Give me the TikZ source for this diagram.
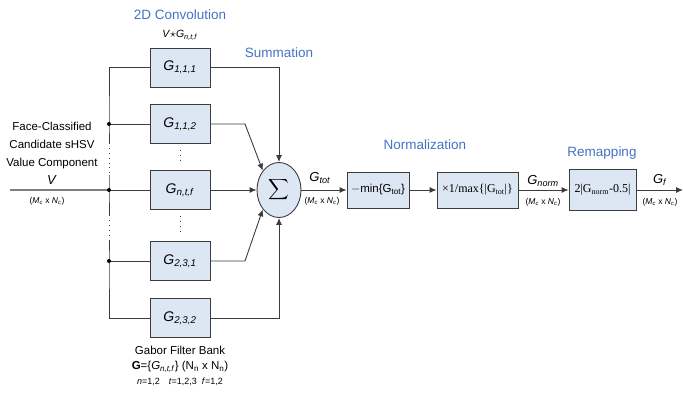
\documentclass[tikz,border=0pt]{standalone}
\usepackage{amsmath}
\usepackage{fontspec}
\setmainfont{Liberation Sans}
\newfontfamily\timesfont{Liberation Serif}
\usetikzlibrary{arrows.meta,shapes.geometric}
\definecolor{boxfill}{RGB}{221,231,244}
\definecolor{edge}{RGB}{60,60,60}
\definecolor{titleblue}{RGB}{68,114,196}
\newcommand{\dimMN}{(\textit{M}\textsubscript{\textit{c}} x \textit{N}\textsubscript{\textit{c}})}
\newcommand{\gsub}[1]{\textit{G}\textsubscript{\textit{#1}}}
\begin{document}
\begin{tikzpicture}[x=1pt,y=-1pt,
  >={Latex[length=7pt,width=6pt]},
  wire/.style={edge,line width=0.9pt},
  dotline/.style={edge,line width=0.9pt,dash pattern=on 0.9pt off 4pt},
  gbox/.style={draw=edge,line width=0.9pt,fill=boxfill,minimum width=60pt,minimum height=39pt,inner sep=0pt,font=\fontsize{14}{14}\selectfont},
  nbox/.style={draw=edge,line width=0.9pt,fill=boxfill,minimum height=36pt,inner sep=0pt},
  title/.style={text=titleblue,font=\fontsize{13.5}{14}\selectfont},
  dimtext/.style={font=\fontsize{8.5}{9}\selectfont},
  sigtext/.style={font=\fontsize{13}{13}\selectfont}]
  \useasboundingbox (0,0) rectangle (683,393);

  \node[title] (tconv) at (180,15) {2D Convolution};
  \node[font=\fontsize{10.5}{10}\selectfont] (conv) at (180,35) {\textit{V}{\fontsize{13}{13}\selectfont$\star$}\gsub{n,t,f}};
  \node[title] (tsum) at (279,53) {Summation};
  \node[title] (tnorm) at (425,145) {Normalization};
  \node[title] (tremap) at (602,153) {Remapping};

  \node[gbox] (g111) at (180,67.5) {\gsub{1,1,1}};
  \node[gbox] (g112) at (180,124) {\gsub{1,1,2}};
  \node[gbox] (gntf) at (180,190) {\gsub{n,t,f}};
  \node[gbox] (g231) at (180,261) {\gsub{2,3,1}};
  \node[gbox] (g232) at (180,318) {\gsub{2,3,2}};
  \draw[dotline,shorten >=6pt,shorten <=6pt] (g112) -- (gntf);
  \draw[dotline,shorten >=6pt,shorten <=6pt] (gntf) -- (g231);

  \node[align=center,font=\fontsize{11.5}{18}\selectfont] (vlabel) at (52,153)
    {Face-Classified\\Candidate sHSV\\Value Component\\{\fontsize{13}{18}\selectfont\textit{V}}};
  \node[dimtext] (vdim) at (47,201) {\dimMN};

  \coordinate (vin) at (10,190);
  \coordinate (bt) at (109,67.5);
  \coordinate (d1) at (109,124);
  \coordinate (e1) at (109,143);
  \coordinate (e2) at (109,175);
  \coordinate (d2) at (109,190);
  \coordinate (e3) at (109,215);
  \coordinate (e4) at (109,240);
  \coordinate (d3) at (109,261);
  \coordinate (bb) at (109,318);
  \draw[gray,line width=1.5pt] (vin) -- (d2);
  \draw[wire] (g111.west) -- (bt) -- (d1) -- (e1);
  \draw[dotline] (e1) -- (e2);
  \draw[wire] (e2) -- (d2) -- (e3);
  \draw[dotline] (e3) -- (e4);
  \draw[wire] (e4) -- (d3) -- (bb) -- (g232.west);
  \draw[wire] (d1) -- (g112.west);
  \draw[wire] (d2) -- (gntf.west);
  \draw[wire] (d3) -- (g231.west);
  \fill[black] (d1) circle (2pt) (d2) circle (2pt) (d3) circle (2pt);

  \node[ellipse,draw=edge,line width=0.9pt,fill=boxfill,minimum width=44pt,minimum height=55pt,inner sep=0pt] (sum) at (279,190)
    {\fontsize{14}{14}\selectfont$\displaystyle\sum$};
  \coordinate (k1) at (245,124);
  \coordinate (k2) at (245,261);
  \draw[wire,->] (g111.east) -| (sum.north);
  \draw[wire,->] (g112.east) -- (k1) -- (sum.130);
  \draw[wire,->] (gntf.east) -- (sum.west);
  \draw[wire,->] (g231.east) -- (k2) -- (sum.230);
  \draw[wire,->] (g232.east) -| (sum.south);

  \node[nbox,minimum width=62pt,font=\fontsize{11.5}{12}\selectfont] (nmin) at (378,190) {$-$min\{G\textsubscript{tot}\}};
  \node[nbox,minimum width=81pt,font=\timesfont\fontsize{12}{12}\selectfont] (nmax) at (477.5,190) {×1/max\{|G\textsubscript{tot}|\}};
  \node[nbox,minimum width=67pt,minimum height=41pt,font=\timesfont\fontsize{12}{12}\selectfont] (remap) at (602.5,190) {2|G\textsubscript{norm}-0.5|};
  \coordinate (gout) at (683,190);
  \draw[wire,->] (sum) -- (nmin);
  \draw[wire,->] (nmin) -- (nmax);
  \draw[wire,->] (nmax) -- (remap);
  \draw[wire,->] (remap) -- (gout);

  \node[sigtext] (gtot) at (320,178) {\gsub{tot}};
  \node[dimtext] (dtot) at (322,201) {\dimMN};
  \node[sigtext] (gnorm) at (543,181) {\gsub{norm}};
  \node[dimtext] (dnorm) at (543,202) {\dimMN};
  \node[sigtext] (gf) at (660,180) {\gsub{f}};
  \node[dimtext] (dout) at (660,202) {\dimMN};

  \node[font=\fontsize{11.5}{12}\selectfont] (bank) at (180,350) {Gabor Filter Bank};
  \node[font=\fontsize{11.5}{12}\selectfont] (bankset) at (180,367)
    {\textbf{G}=\{\gsub{n,t,f}\} (N\textsubscript{n} x N\textsubscript{n})};
  \node[font=\fontsize{9}{10}\selectfont] (bankidx) at (180,382)
    {\textit{n}=1,2\quad\textit{t}=1,2,3\ \ \textit{f}=1,2};
\end{tikzpicture}
\end{document}
